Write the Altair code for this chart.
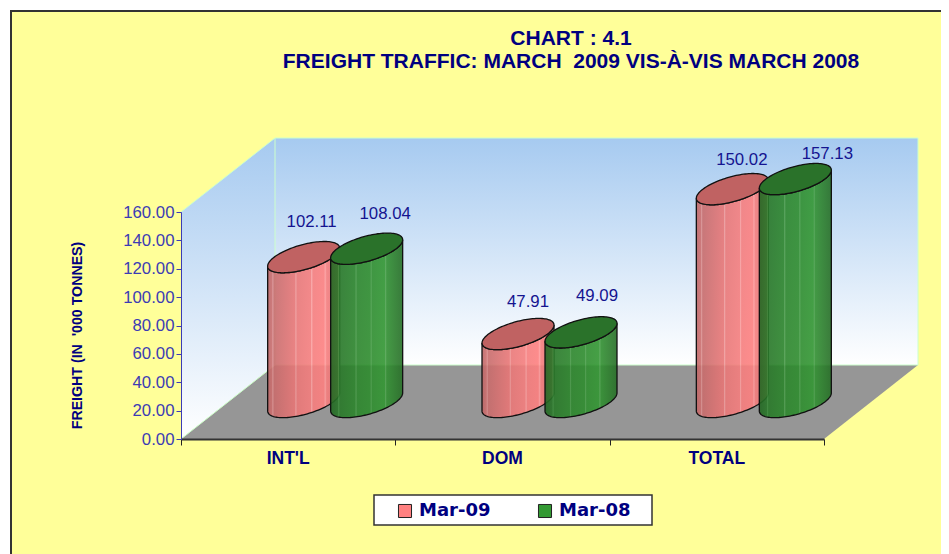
import altair as alt
import pandas as pd
import numpy as np

categories = ["INT'L", "DOM", "TOTAL"]
series_names = ["Mar-09", "Mar-08"]
values_mar09 = [102.11, 47.91, 150.02]
values_mar08 = [108.04, 49.09, 157.13]
y_ticks = [0, 20, 40, 60, 80, 100, 120, 140, 160]
# hand-placed label nudges of the original chart, in pixels (right, up)
nudge_mar09 = [(-1, 1), (1, -2), (0.5, -5)]
nudge_mar08 = [(9.5, 1), (7, 2), (23, -9)]
red_stops = [(0, "#bc6666"), (.06, "#cc6e6e"), (.07, "#dc9090"), (.09, "#c86c6c"), (.38, "#e87676"), (.39, "#f09c9c"),
             (.41, "#ea7878"), (.6, "#f47e7e"), (.61, "#fba4a4"), (.63, "#f67e7e"), (.78, "#fd8080"), (.8, "#ff9c9c"),
             (.82, "#f67e7e"), (1, "#e07070")]
green_stops = [(0, "#226622"), (.1, "#277427"), (.11, "#3c8c3c"), (.13, "#287828"), (.34, "#2b842b"), (.35, "#4c9c4c"),
               (.37, "#2c862c"), (.55, "#2e8c2e"), (.56, "#4ca04c"), (.58, "#2f8e2f"), (.75, "#329632"), (.76, "#50a450"),
               (.78, "#318f31"), (1, "#266e26")]

PW, PH = 643, 227
LEFT, TOP = 173, 204
NAVY = "#000080"
AXIS_BLUE = "#3c3cb4"
FONT = "Liberation Sans"
NB = "\u00a0"

cat_w = PW / 3
val_px = PH / 160
depth_x = 94 / cat_w       # back wall offset, in category units
depth_y = 74 / val_px      # back wall offset, in value units
mid_x = depth_x / 2
mid_y = depth_y / 2
rx = 36 / cat_w
shift = 31.5 / cat_w
ry = 12.8 / val_px
tilt = 9.0 / val_px
us = np.cos(np.linspace(np.pi, 0, 61))


def cyl(vals, sign):
    body, cap = [], []
    for i, v in enumerate(vals):
        cx = i + 0.5 + mid_x + sign * shift
        for u in us:
            half = ry * np.sqrt(max(0.0, 1 - u * u))
            x = cx + rx * u
            m = tilt * u
            body.append(dict(c=i, x=x, y=mid_y + v + m - half, y2=mid_y + m - half))
            cap.append(dict(c=i, x=x, y=mid_y + v + m + half, y2=mid_y + v + m - half))
    return pd.DataFrame(body), pd.DataFrame(cap)


def grad(stops):
    return alt.Gradient(gradient="linear", x1=0, x2=1, y1=0, y2=0,
                        stops=[alt.GradientStop(offset=o, color=c) for o, c in stops])


sx = alt.Scale(domain=[0, 3], nice=False, zero=False)
sy = alt.Scale(domain=[0, 160], nice=False)
x_axis = alt.Axis(values=[0, 1, 2, 3], labels=False, title=None, grid=False, domainColor="#333333",
                  domainWidth=2, tickColor="#222222", tickSize=6, tickWidth=1, zindex=1)
y_axis = alt.Axis(values=y_ticks, format=".2f", title=f"FREIGHT (IN {NB}'000 TONNES)", grid=False,
                  domainColor=AXIS_BLUE, domainWidth=1, tickColor=AXIS_BLUE, tickSize=5, zindex=1,
                  labelColor=AXIS_BLUE, labelFont=FONT, labelFontSize=16.8, labelPadding=2,
                  titleColor=NAVY, titleFont=FONT, titleFontSize=14.2, titleFontWeight="bold",
                  titleX=78 - 181 + 6, titleY=335 - 212)
X = lambda f="x": alt.X(f"{f}:Q", scale=sx, axis=x_axis)
Y = lambda f="y": alt.Y(f"{f}:Q", scale=sy, axis=y_axis)
px = lambda v: alt.value(v)
one = pd.DataFrame({"a": [0]})

wall_grad = alt.Gradient(gradient="linear", x1=0, x2=0, y1=0, y2=1,
                         stops=[alt.GradientStop(offset=0, color="#a6caf0"), alt.GradientStop(offset=1, color="#ffffff")])

panel = alt.Chart(one).mark_rect(fill="#ffff99", stroke="#333333", strokeWidth=2).encode(
    x=px(11 - 8 - LEFT), x2=px(1100), y=px(11 - 8 - TOP), y2=px(800))

back = alt.Chart(pd.DataFrame(dict(x=[depth_x], x2=[3 + depth_x], y=[160 + depth_y], y2=[depth_y]))).mark_rect(
    fill=wall_grad).encode(x=X(), x2="x2:Q", y=Y(), y2="y2:Q")
side = alt.Chart(pd.DataFrame(dict(x=[0, depth_x], y=[160, 160 + depth_y], y2=[0, depth_y]))).mark_area(
    fill=wall_grad).encode(x=X(), y=Y(), y2="y2:Q")
floor = alt.Chart(pd.DataFrame(dict(y=[0, depth_y], x=[0, depth_x], x2=[3, 3 + depth_x]))).mark_area(
    orient="horizontal", fill="#969696").encode(y=Y(), x=X(), x2="x2:Q")
edges_df = pd.DataFrame(dict(
    x=[0, depth_x, depth_x, 3 + depth_x, depth_x, 0],
    x2=[depth_x, depth_x, 3 + depth_x, 3 + depth_x, 3 + depth_x, depth_x],
    y=[160, depth_y, 160 + depth_y, depth_y, depth_y, 0],
    y2=[160 + depth_y, 160 + depth_y, 160 + depth_y, 160 + depth_y, depth_y, depth_y]))
edges = alt.Chart(edges_df).mark_rule(color="#ccffcc", strokeWidth=1).encode(x=X(), x2="x2:Q", y=Y(), y2="y2:Q")

layers = [panel, side, back, floor, edges]
for vals, sign, stops, cap_col in [(values_mar09, -1, red_stops, "#c06262"), (values_mar08, 1, green_stops, "#2a722a")]:
    body, cap = cyl(vals, sign)
    for i in range(3):
        layers.append(alt.Chart(body[body.c == i]).mark_area(fill=grad(stops), fillOpacity=0.9, stroke="#111111",
                      strokeWidth=1.3, interpolate="linear").encode(x=X(), y=Y(), y2="y2:Q"))
        layers.append(alt.Chart(cap[cap.c == i]).mark_area(fill=cap_col, stroke="#111111", strokeWidth=1.3,
                      interpolate="linear").encode(x=X(), y=Y(), y2="y2:Q"))

labels_rows = []
for i in range(3):
    for vals, sign, nudge, s in [(values_mar09, -1, nudge_mar09, series_names[0]), (values_mar08, 1, nudge_mar08, series_names[1])]:
        labels_rows.append(dict(x=i + 0.5 + mid_x + sign * shift + nudge[i][0] / cat_w,
                                y=vals[i] + mid_y + nudge[i][1] / val_px, t=f"{vals[i]:.2f}", s=s))
lab_df = pd.DataFrame(labels_rows)
layers.append(alt.Chart(lab_df).mark_text(color="#141490", font=FONT, fontSize=16.8, baseline="alphabetic", dy=-29, dx=9).encode(
    x=X(), y=Y(), text="t:N"))

cat_df = pd.DataFrame(dict(x=[i + 0.5 for i in range(3)], y=[0, 0, 0], t=categories))
layers.append(alt.Chart(cat_df).mark_text(color=NAVY, font=FONT, fontSize=17.5, fontWeight="bold", baseline="alphabetic", dy=25).encode(
    x=X(), y=Y(), text="t:N"))

legend_box = alt.Chart(one).mark_rect(fill="white", stroke="#333333", strokeWidth=1.5).encode(
    x=px(374 - 181), x2=px(652 - 181), y=px(495 - 212), y2=px(525 - 212))
layers.append(legend_box)

legend_df = pd.DataFrame(dict(x=[0, 0], y=[0, 0], s=series_names))
layers.append(alt.Chart(legend_df).mark_square(opacity=0).encode(
    x=X(), y=Y(),
    color=alt.Color("s:N", scale=alt.Scale(domain=series_names, range=["#ff8080", "#339933"]),
                    legend=alt.Legend(orient="none", legendX=398 - 181 - 2, legendY=502 - 212, direction="horizontal", title=None,
                                      padding=0, symbolType="square", symbolSize=170,
                                      symbolOpacity=1, symbolStrokeColor="#222222", symbolStrokeWidth=1,
                                      labelFont="DejaVu Sans", labelFontSize=18, labelFontWeight="bold", labelColor=NAVY,
                                      columnPadding=45, labelOffset=5))))

chart = alt.layer(*layers).properties(
    width=PW, height=PH,
    padding={"left": LEFT, "top": TOP, "right": 933 - LEFT - PW, "bottom": 546 - TOP - PH},
    autosize=alt.AutoSizeParams(type="none"),
    title=alt.TitleParams(text=["CHART : 4.1", f"FREIGHT TRAFFIC: MARCH {NB}2009 VIS-À-VIS MARCH 2008"], anchor="middle", dx=68.5,
                          frame="group", offset=-62, zindex=1, font=FONT, fontSize=21, fontWeight="bold", color=NAVY, lineHeight=23),
    background="white",
).configure_view(stroke=None)

chart.save("out.html", embed_options={"renderer": "svg", "actions": False})
